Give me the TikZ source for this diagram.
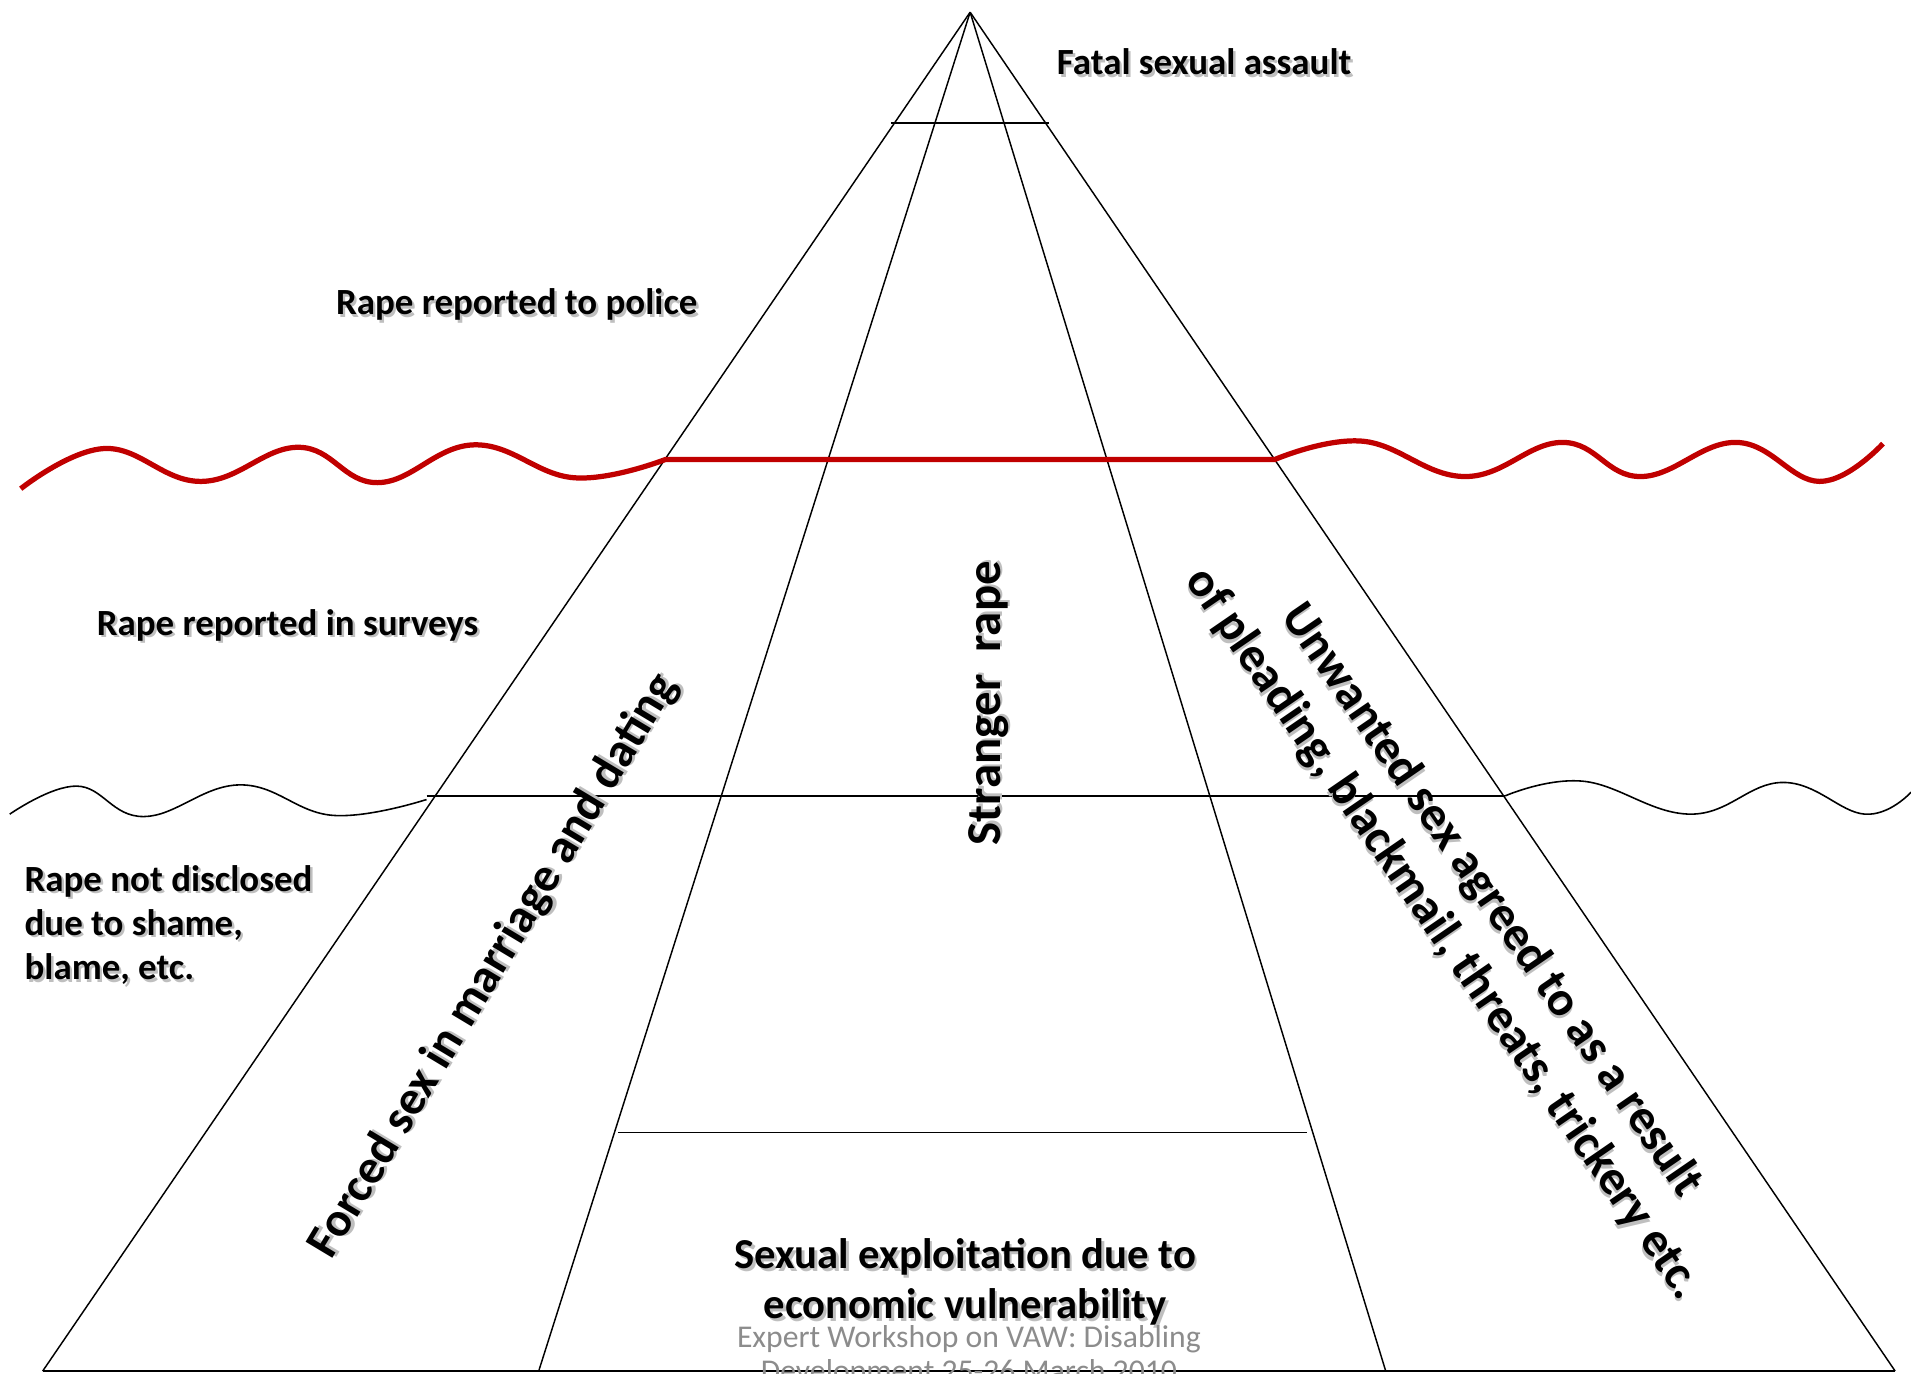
\documentclass[tikz,border=0pt]{standalone}
\usepackage{fontspec}
\setmainfont{Carlito}
\definecolor{wavered}{RGB}{192,0,0}
\definecolor{footgray}{RGB}{140,140,140}
\newcommand\shadowed[1]{\leavevmode\rlap{\kern2pt\raisebox{-2pt}{\textcolor{black!25}{#1}}}#1}

\begin{document}
\begin{tikzpicture}[x=1pt,y=-1pt,
    level/.style={font=\fontsize{30.3}{36.5}\selectfont\bfseries,inner sep=0pt},
    slant/.style={font=\fontsize{40}{48.5}\selectfont\bfseries,inner sep=0pt},
    edge/.style={line width=1.2pt},
    redline/.style={line width=4.3pt,wavered},
    blackline/.style={line width=1.3pt}]
  \clip (0,0) rectangle (1568,1127);
  % corners of the pyramid
  \coordinate (apex) at (796,10);
  \coordinate (bl) at (35,1125);
  \coordinate (br) at (1555,1125);
  \coordinate (il) at (442,1125);
  \coordinate (ir) at (1137,1125);
  \draw[edge] (apex) -- (bl);
  \draw[edge] (apex) -- (br);
  \draw[edge] (apex) -- (il);
  \draw[edge] (apex) -- (ir);
  \draw[line width=2pt] (bl) -- (br);
  \draw[edge] (731,101) -- (861,101);
  \draw[edge] (507,929) -- (1072,929);
  % the red water line
  \draw[redline] plot[smooth,tension=0.7] coordinates {(17,401) (86,368) (165,395) (245,367) (310,396) (389,365) (471,392) (546,377)}
    -- (1046,377)
    -- plot[smooth,tension=0.7] coordinates {(1046,377) (1118,362) (1202,391) (1282,363) (1346,391) (1425,363) (1493,395) (1545,364)};
  % the black water line
  \draw[blackline] plot[smooth,tension=0.7] coordinates {(8,668) (63,645) (118,670) (197,644) (273,669) (350,656)};
  \draw[blackline] (350,653) -- (1235,653);
  \draw[blackline] plot[smooth,tension=0.7] coordinates {(1235,653) (1299,641) (1387,668) (1463,642) (1530,668) (1568,650)};
  % labels
  \node[level] (fatal) at (988,52) {\shadowed{Fatal sexual assault}};
  \node[level] (police) at (424,251) {\shadowed{Rape reported to police}};
  \node[level] (surveys) at (236,514) {\shadowed{Rape reported in surveys}};
  \node[level,anchor=west,align=left] (hidden) at (20,760)
    {\shadowed{Rape not disclosed}\\\shadowed{due to shame,}\\\shadowed{blame, etc.}};
  \node[slant,rotate=90] (stranger) at (812,577) {\shadowed{Stranger\ \ rape}};
  \node[slant,rotate=59,font=\fontsize{39.5}{48}\selectfont\bfseries] (forced) at (406,793) {\shadowed{Forced sex in marriage and dating}};
  \node[slant,rotate=-55.5,align=center] (unwanted) at (1203,753)
    {\shadowed{Unwanted sex agreed to as a result}\\\shadowed{of pleading, blackmail, threats, trickery etc.}};
  \node[inner sep=0pt,align=center,font=\fontsize{35}{41}\selectfont\bfseries] (exploit) at (792,1053)
    {\shadowed{Sexual exploitation due to}\\\shadowed{economic vulnerability}};
  \node[inner sep=0pt,align=center,anchor=north,footgray,font=\fontsize{26}{28}\selectfont] (footer) at (795,1087)
    {Expert Workshop on VAW: Disabling\\Development 25-26 March 2010};
\end{tikzpicture}
\end{document}
